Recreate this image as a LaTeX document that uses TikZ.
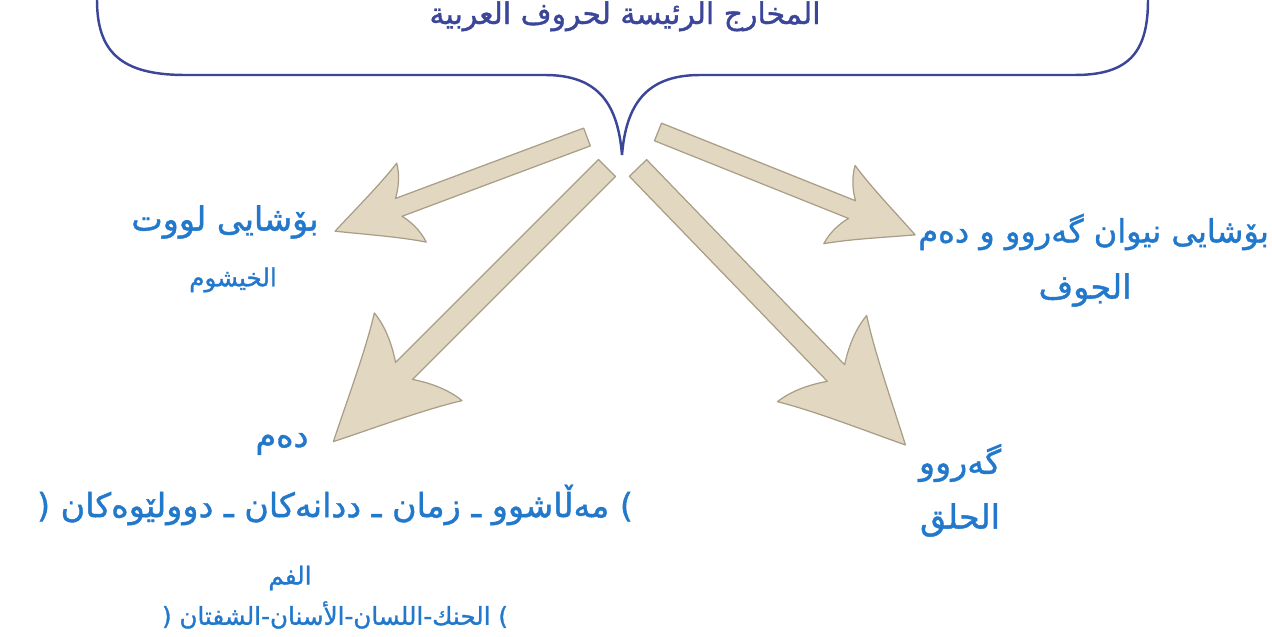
\documentclass[tikz,border=0pt]{standalone}
\usepackage{fontspec}
\newfontfamily\arabicfont[Script=Arabic, FakeBold=1.2]{DejaVu Sans}
\TeXXeTstate=1
\usepackage{tikz}
\usetikzlibrary{calc}

\definecolor{braceblue}{HTML}{3B4699}
\definecolor{labelblue}{HTML}{2278CB}
\definecolor{arrowfill}{HTML}{E2D8C1}
\definecolor{arrowedge}{HTML}{A89D86}

\tikzset{
  arrowbody/.style={fill=arrowfill, draw=arrowedge, line width=0.7pt, line join=round},
  bigtext/.style={text=labelblue, font=\arabicfont\fontsize{19}{22}\selectfont, inner sep=1pt},
  smalltext/.style={text=labelblue, font=\arabicfont\fontsize{14}{17}\selectfont, inner sep=1pt}
}

% fat beige arrow: start, angle, length, head scale, shaft half width
\newcommand{\beigearrow}[5]{%
  \begin{scope}[shift={(#1)}, rotate=#2]
    \filldraw[arrowbody] (0,-#5) -- ({#3-100*#4},-#5)
      .. controls ({#3-108*#4},{-24*#4}) and ({#3-118*#4},{-42*#4}) .. ({#3-120*#4},{-62*#4})
      .. controls ({#3-88*#4},{-42*#4}) and ({#3-40*#4},{-20*#4}) .. (#3,0)
      .. controls ({#3-40*#4},{20*#4}) and ({#3-88*#4},{42*#4}) .. ({#3-120*#4},{62*#4})
      .. controls ({#3-118*#4},{42*#4}) and ({#3-108*#4},{24*#4}) .. ({#3-100*#4},#5)
      -- (0,#5) -- cycle;
  \end{scope}}

\begin{document}
\begin{tikzpicture}[x=0.02cm, y=0.02cm]
  \useasboundingbox (0,0) rectangle (1272,636);

  % --- title ---
  \node[text=braceblue, anchor=north, inner sep=0pt,
        font=\arabicfont\fontsize{17}{20}\selectfont] (title) at (625,635)
    {\beginR المخارج الرئيسة لحروف العربية\endR};

  % --- brace ---
  \coordinate (BL) at (97,636);
  \coordinate (BT) at (622,481);
  \coordinate (BR) at (1148,636);
  \draw[braceblue, line width=1.4pt] (BL) .. controls (97,585) and (120,561) .. (185,561)
    -- (545,561) .. controls (600,561) and (618,530) .. (BT)
    .. controls (626,530) and (645,561) .. (700,561)
    -- (1075,561) .. controls (1130,561) and (1148,585) .. (BR);

  % --- arrow starts ---
  \coordinate (S1) at (587,499);
  \coordinate (S2) at (607,468);
  \coordinate (S3) at (658,504);
  \coordinate (S4) at (638,468);

  % --- arrows ---
  \beigearrow{S1}{200.5}{269}{0.68}{9.5}
  \beigearrow{S2}{225}{387}{1.0}{12}
  \beigearrow{S3}{-21.8}{277}{0.68}{9.5}
  \beigearrow{S4}{-46}{385}{1.0}{12}

  % --- labels ---
  \node[bigtext] (nose) at (225,414) {\beginR بۆشایی لووت\endR};
  \node[smalltext] (noseAr) at (233,356) {\beginR الخيشوم\endR};

  \node[bigtext, anchor=east, font=\arabicfont\fontsize{18.2}{21}\selectfont] (cavity)
    at (1271,404) {\beginR بۆشایی نیوان گەروو و دەم\endR};
  \node[bigtext] (cavityAr) at (1085,346) {\beginR الجوف\endR};

  \node[bigtext] (mouth) at (282,192) {\beginR دەم\endR};
  \node[bigtext] (mouthKu) at (335,131)
    {(~\beginR مەڵاشوو ـ زمان ـ ددانەکان ـ دوولێوەکان\endR~)};
  \node[smalltext] (mouthAr) at (290,58) {\beginR الفم\endR};
  \node[smalltext] (mouthArList) at (335,21)
    {(~\beginR الحنك-اللسان-الأسنان-الشفتان\endR~)};

  \node[bigtext] (throat) at (960,173) {\beginR گەروو\endR};
  \node[bigtext] (throatAr) at (960,116) {\beginR الحلق\endR};
\end{tikzpicture}
\end{document}
